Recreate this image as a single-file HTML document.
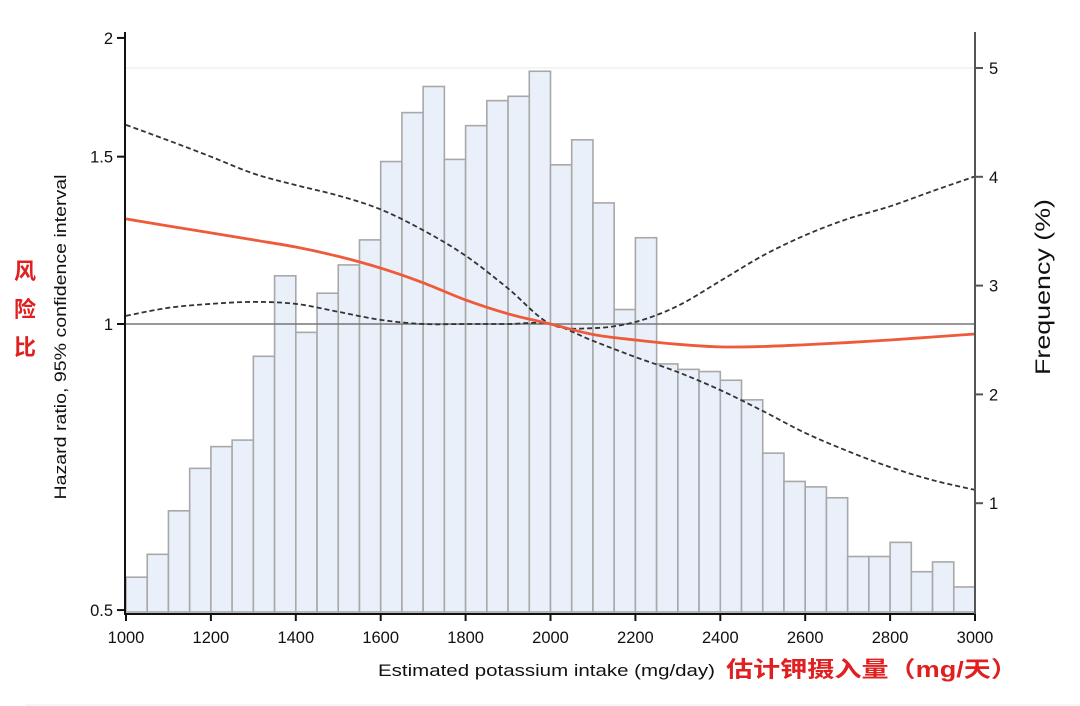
<!DOCTYPE html>
<html><head><meta charset="utf-8"><style>
body{margin:0;background:#fff;width:1080px;height:706px;overflow:hidden}
svg{display:block}
text{font-family:"Liberation Sans","Noto Sans CJK SC",sans-serif}
</style></head><body>
<svg id="chart" width="1080" height="706" viewBox="0 0 1080 706" xmlns="http://www.w3.org/2000/svg">
<g id="bars"></g>
<g id="lines"></g>
<g id="axes"></g>
<text transform="translate(66,337) rotate(-90)" text-anchor="middle" font-size="17" textLength="325" lengthAdjust="spacingAndGlyphs" fill="#111">Hazard ratio, 95% confidence interval</text>
<text transform="translate(1050,287) rotate(-90)" text-anchor="middle" font-size="21" textLength="176" lengthAdjust="spacingAndGlyphs" fill="#111">Frequency (%)</text>
<text x="378" y="676" font-size="17" textLength="337" lengthAdjust="spacingAndGlyphs" fill="#111">Estimated potassium intake (mg/day)</text>
<text x="726" y="677" font-size="22" font-weight="bold" textLength="292" lengthAdjust="spacingAndGlyphs" fill="#e02020" font-family="'Liberation Serif','Noto Serif CJK SC',serif">估计钾摄入量（mg/天）</text>
<g font-size="22" font-weight="bold" fill="#e02020" font-family="'Liberation Serif','Noto Serif CJK SC',serif">
<text x="14" y="279">风</text><text x="14" y="317">险</text><text x="14" y="355">比</text></g>
<line x1="25" y1="705" x2="1080" y2="705" stroke="#eee"/>
</svg>
<script>
const binStarts=[1000,1050,1100,1150,1200,1250,1300,1350,1400,1450,1500,1550,1600,1650,1700,1750,1800,1850,1900,1950,2000,2050,2100,2150,2200,2250,2300,2350,2400,2450,2500,2550,2600,2650,2700,2750,2800,2850,2900,2950];
const freq=[0.32,0.53,0.93,1.32,1.52,1.58,2.35,3.09,2.57,2.93,3.19,3.42,4.14,4.59,4.83,4.16,4.47,4.70,4.74,4.97,4.11,4.34,3.76,2.78,3.44,2.28,2.23,2.21,2.13,1.95,1.46,1.20,1.15,1.05,0.51,0.51,0.64,0.37,0.46,0.23];
const curveX=[1000,1100,1200,1300,1400,1500,1600,1700,1800,1900,2000,2100,2200,2300,2400,2500,2600,2700,2800,2900,3000];
const hr=[1.29,1.268,1.247,1.226,1.205,1.178,1.145,1.105,1.06,1.025,1.0,0.975,0.962,0.952,0.946,0.947,0.951,0.956,0.962,0.969,0.976];
const upper=[1.62,1.56,1.50,1.44,1.40,1.365,1.32,1.255,1.18,1.09,1.0,0.99,1.005,1.045,1.11,1.18,1.24,1.29,1.33,1.38,1.43];
const lower=[1.02,1.04,1.05,1.055,1.05,1.03,1.01,1.0,1.0,1.0,1.0,0.96,0.923,0.89,0.852,0.81,0.768,0.735,0.707,0.685,0.669];
const xTicks=[1000,1200,1400,1600,1800,2000,2200,2400,2600,2800,3000];
const hrTicks=[0.5,1,1.5,2];
const hrTickLabels=["0.5","1","1.5","2"];
const freqTicks=[1,2,3,4,5];
const NS="http://www.w3.org/2000/svg";
const X=v=>126+(v-1000)*0.4245;
const Y=v=>324-Math.log(v)*412.7;
const F=v=>612-v*108.8;
function mk(tag,attrs,parent){const e=document.createElementNS(NS,tag);for(const k in attrs)e.setAttribute(k,attrs[k]);parent.appendChild(e);return e;}
const bars=document.getElementById('bars'),lines=document.getElementById('lines'),axes=document.getElementById('axes');
let gl=mk('line',{x1:126,x2:975,y1:F(5),y2:F(5),stroke:'#e8e8e8'},bars);


binStarts.forEach((b,i)=>{
 const x0=X(b),x1=X(b+50);
 const r=mk('rect',{x:x0,y:F(freq[i]),width:x1-x0,height:F(0)-F(freq[i]),fill:'#e9f0fa',stroke:'#a8a8a8','stroke-width':1.6},bars);
 
 
});
let ref=mk('line',{x1:126,x2:975,y1:Y(1),y2:Y(1),stroke:'#777','stroke-width':1.5},lines);


function pathFor(vals){
 const p=curveX.map((c,i)=>[X(c),Y(vals[i])]);
 let d='M'+p[0][0]+','+p[0][1];
 for(let i=0;i<p.length-1;i++){
  const p0=p[i-1]||p[i],p1=p[i],p2=p[i+1],p3=p[i+2]||p2;
  d+=' C'+(p1[0]+(p2[0]-p0[0])/6)+','+(p1[1]+(p2[1]-p0[1])/6)+' '+(p2[0]-(p3[0]-p1[0])/6)+','+(p2[1]-(p3[1]-p1[1])/6)+' '+p2[0]+','+p2[1];
 }
 return d;
}
let u=mk('path',{d:pathFor(upper),fill:'none',stroke:'#333','stroke-width':1.8,'stroke-dasharray':'5,3'},lines);


let l=mk('path',{d:pathFor(lower),fill:'none',stroke:'#333','stroke-width':1.8,'stroke-dasharray':'5,3'},lines);


let h=mk('path',{d:pathFor(hr),fill:'none',stroke:'#ee5a3a','stroke-width':2.8},lines);


mk('line',{x1:125,x2:125,y1:32,y2:614,stroke:'#111','stroke-width':2},axes);
mk('line',{x1:124,x2:976,y1:614,y2:614,stroke:'#111','stroke-width':2},axes);
mk('line',{x1:975,x2:975,y1:32,y2:614,stroke:'#555','stroke-width':2},axes);
xTicks.forEach(t=>{
 mk('line',{x1:X(t),x2:X(t),y1:614,y2:621,stroke:'#111','stroke-width':2},axes);
 const tx=mk('text',{x:X(t),y:643,'text-anchor':'middle','font-size':16.5,fill:'#111'},axes);
 tx.textContent=t;
 
 
});
hrTicks.forEach((t,i)=>{
 mk('line',{x1:117,x2:125,y1:Y(t),y2:Y(t),stroke:'#111','stroke-width':2},axes);
 const tx=mk('text',{x:113,y:Y(t)+6,'text-anchor':'end','font-size':16.5,fill:'#111'},axes);
 tx.textContent=hrTickLabels[i];
 
 
});
freqTicks.forEach(t=>{
 mk('line',{x1:975,x2:983,y1:F(t),y2:F(t),stroke:'#555','stroke-width':2},axes);
 const tx=mk('text',{x:989,y:F(t)+6,'font-size':16.5,fill:'#111'},axes);
 tx.textContent=t;
 
 
});
</script>
</body></html>
